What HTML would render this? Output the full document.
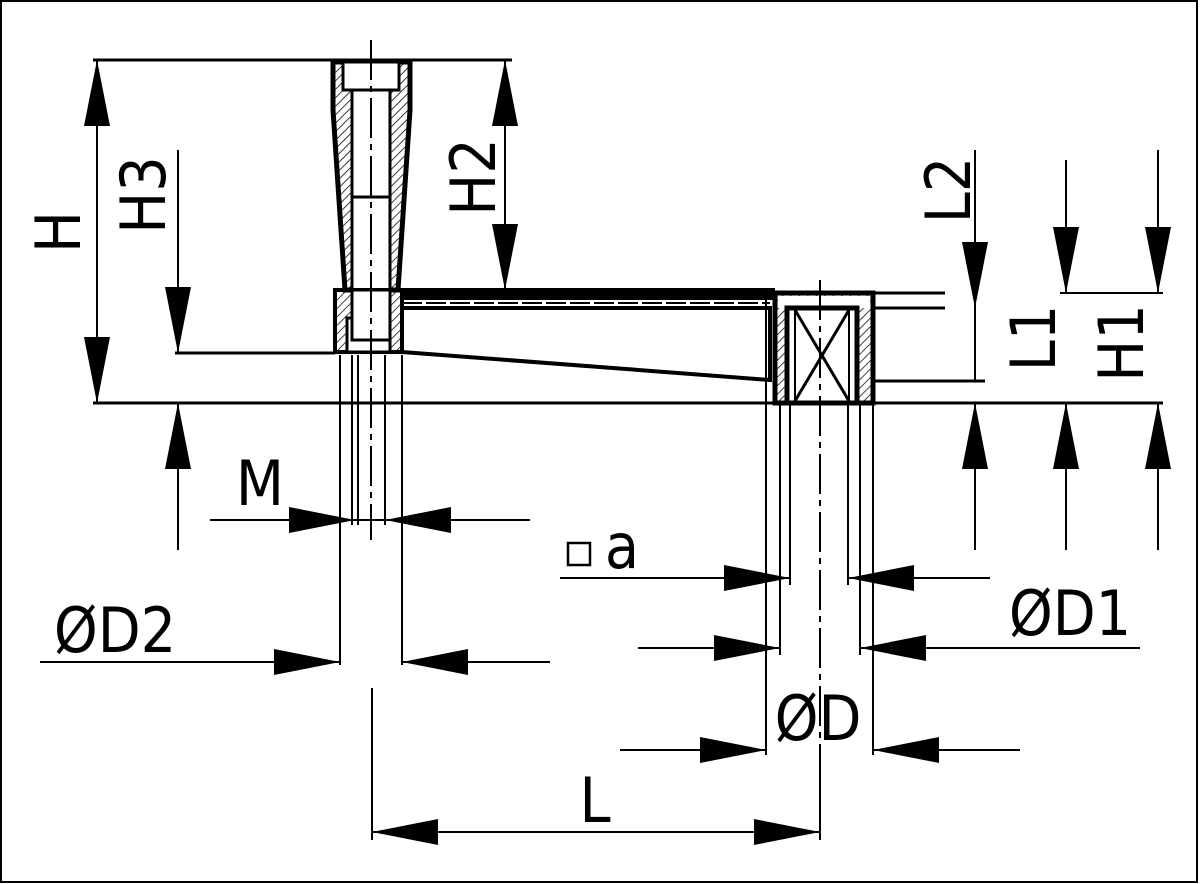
<!DOCTYPE html>
<html><head><meta charset="utf-8"><style>
html,body{margin:0;padding:0;background:#fff;}
svg{display:block}
text{font-family:"DejaVu Sans Condensed","Liberation Sans",sans-serif;font-size:62px;fill:#000}
</style></head><body>
<svg width="1200" height="884" viewBox="0 0 1200 884" xmlns="http://www.w3.org/2000/svg">
<defs>
<pattern id="h" width="6" height="6" patternUnits="userSpaceOnUse" patternTransform="rotate(45)">
<line x1="0" y1="0" x2="0" y2="6" stroke="#000" stroke-width="1.5"/>
</pattern>
<marker id="a" markerWidth="66" markerHeight="26" refX="66" refY="13" orient="auto-start-reverse" markerUnits="userSpaceOnUse">
<path d="M0,0 L66,13 L0,26 Z" fill="#000"/>
</marker>
</defs>
<rect x="1" y="1" width="1196" height="881" fill="none" stroke="#000" stroke-width="2"/>
<g stroke="#000" stroke-width="3" fill="none">
<line x1="93" y1="60" x2="512" y2="60"/>
<line x1="93" y1="403" x2="1163" y2="403"/>
<line x1="175" y1="353" x2="335" y2="353"/>
<line x1="873" y1="293" x2="945" y2="293"/>
<line x1="873" y1="308" x2="945" y2="308"/>
<line x1="873" y1="381" x2="985" y2="381"/>
<line x1="1060" y1="293" x2="1163" y2="293" stroke-width="2"/>
<!-- handle grip -->
<path d="M333,62 L410,62 L410,110 L398,290 L345,290 L333,110 Z" fill="url(#h)" stroke-width="5"/>
<rect x="343" y="62" width="56" height="28" fill="#fff" stroke-width="3"/>
<rect x="352" y="90" width="38" height="250" fill="#fff" stroke-width="3"/>
<line x1="352" y1="197" x2="390" y2="197"/>
<rect x="335" y="290" width="67" height="62" fill="url(#h)" stroke-width="4"/>
<rect x="347" y="318" width="43" height="34" fill="#fff" stroke-width="3"/>
<rect x="352" y="290" width="38" height="50" fill="#fff" stroke-width="3"/>
<!-- arm -->
<path d="M402,288 L775,288 L775,300 L402,300 Z" fill="#000" stroke="none"/>
<path d="M402,308 L770,308 L770,380 L402,352" stroke-width="4"/>
<line x1="402" y1="303" x2="770" y2="303" stroke-width="2" stroke-dasharray="20 4"/>
<!-- hub -->
<rect x="775" y="293" width="98" height="110" fill="url(#h)" stroke-width="5"/>
<rect x="778" y="296" width="92" height="12" fill="#fff" stroke="none"/>
<rect x="787" y="308" width="70" height="95" fill="#fff" stroke-width="5"/>
<line x1="795" y1="310" x2="849" y2="401"/>
<line x1="849" y1="310" x2="795" y2="401"/>
<line x1="795" y1="310" x2="795" y2="401" stroke-width="2"/>
<line x1="849" y1="310" x2="849" y2="401" stroke-width="2"/>
<!-- centerlines -->
<line x1="371" y1="40" x2="371" y2="540" stroke-width="2" stroke-dasharray="40 6 6 6"/>
<line x1="820" y1="280" x2="820" y2="770" stroke-width="2" stroke-dasharray="40 6 6 6"/>
<!-- extension lines handle -->
<line x1="340" y1="355" x2="340" y2="665" stroke-width="2"/>
<line x1="352" y1="355" x2="352" y2="525" stroke-width="2"/>
<line x1="358" y1="355" x2="358" y2="525" stroke-width="2"/>
<line x1="385" y1="355" x2="385" y2="525" stroke-width="2"/>
<line x1="402" y1="355" x2="402" y2="665" stroke-width="2"/>
<line x1="372" y1="688" x2="372" y2="840" stroke-width="2"/>
<!-- extension lines hub -->
<line x1="766" y1="300" x2="766" y2="755" stroke-width="2"/>
<line x1="780" y1="403" x2="780" y2="655" stroke-width="2"/>
<line x1="790" y1="403" x2="790" y2="585" stroke-width="2"/>
<line x1="848" y1="403" x2="848" y2="585" stroke-width="2"/>
<line x1="860" y1="403" x2="860" y2="655" stroke-width="2"/>
<line x1="873" y1="403" x2="873" y2="755" stroke-width="2"/>
<line x1="820" y1="760" x2="820" y2="840" stroke-width="2"/>
<!-- vertical dims -->
<line x1="97" y1="60" x2="97" y2="403" stroke-width="2" marker-start="url(#a)" marker-end="url(#a)"/>
<line x1="178" y1="150" x2="178" y2="353" stroke-width="2" marker-end="url(#a)"/>
<line x1="178" y1="550" x2="178" y2="403" stroke-width="2" marker-end="url(#a)"/>
<line x1="505" y1="60" x2="505" y2="290" stroke-width="2" marker-start="url(#a)" marker-end="url(#a)"/>
<line x1="975" y1="150" x2="975" y2="308" stroke-width="2" marker-end="url(#a)"/>
<line x1="975" y1="550" x2="975" y2="403" stroke-width="2" marker-end="url(#a)"/>
<line x1="1066" y1="160" x2="1066" y2="293" stroke-width="2" marker-end="url(#a)"/>
<line x1="1066" y1="550" x2="1066" y2="403" stroke-width="2" marker-end="url(#a)"/>
<line x1="1158" y1="150" x2="1158" y2="293" stroke-width="2" marker-end="url(#a)"/>
<line x1="1158" y1="550" x2="1158" y2="403" stroke-width="2" marker-end="url(#a)"/>
<line x1="975" y1="308" x2="975" y2="381" stroke-width="2"/>
<!-- horizontal dims -->
<line x1="210" y1="520" x2="355" y2="520" stroke-width="2" marker-end="url(#a)"/>
<line x1="530" y1="520" x2="385" y2="520" stroke-width="2" marker-end="url(#a)"/>
<line x1="355" y1="520" x2="385" y2="520" stroke-width="2"/>
<line x1="40" y1="662" x2="340" y2="662" stroke-width="2" marker-end="url(#a)"/>
<line x1="550" y1="662" x2="402" y2="662" stroke-width="2" marker-end="url(#a)"/>
<line x1="560" y1="578" x2="790" y2="578" stroke-width="2" marker-end="url(#a)"/>
<line x1="990" y1="578" x2="848" y2="578" stroke-width="2" marker-end="url(#a)"/>
<line x1="638" y1="648" x2="780" y2="648" stroke-width="2" marker-end="url(#a)"/>
<line x1="1140" y1="648" x2="860" y2="648" stroke-width="2" marker-end="url(#a)"/>
<line x1="620" y1="750" x2="766" y2="750" stroke-width="2" marker-end="url(#a)"/>
<line x1="1020" y1="750" x2="873" y2="750" stroke-width="2" marker-end="url(#a)"/>
<line x1="372" y1="832" x2="820" y2="832" stroke-width="2" marker-start="url(#a)" marker-end="url(#a)"/>
<rect x="568" y="543" width="22" height="22" stroke-width="2.5"/>
</g>
<text transform="translate(80,232) rotate(-90)" text-anchor="middle">H</text>
<text transform="translate(165,195) rotate(-90)" text-anchor="middle">H3</text>
<text transform="translate(495,177) rotate(-90)" text-anchor="middle">H2</text>
<text transform="translate(970,190) rotate(-90)" text-anchor="middle">L2</text>
<text transform="translate(1055,338) rotate(-90)" text-anchor="middle">L1</text>
<text transform="translate(1143,343) rotate(-90)" text-anchor="middle">H1</text>
<text x="260" y="505" text-anchor="middle">M</text>
<text x="115" y="652" text-anchor="middle">ØD2</text>
<text x="622" y="568" text-anchor="middle">a</text>
<text x="1070" y="635" text-anchor="middle">ØD1</text>
<text x="818" y="740" text-anchor="middle">ØD</text>
<text x="595" y="822" text-anchor="middle">L</text>
</svg>
</body></html>
